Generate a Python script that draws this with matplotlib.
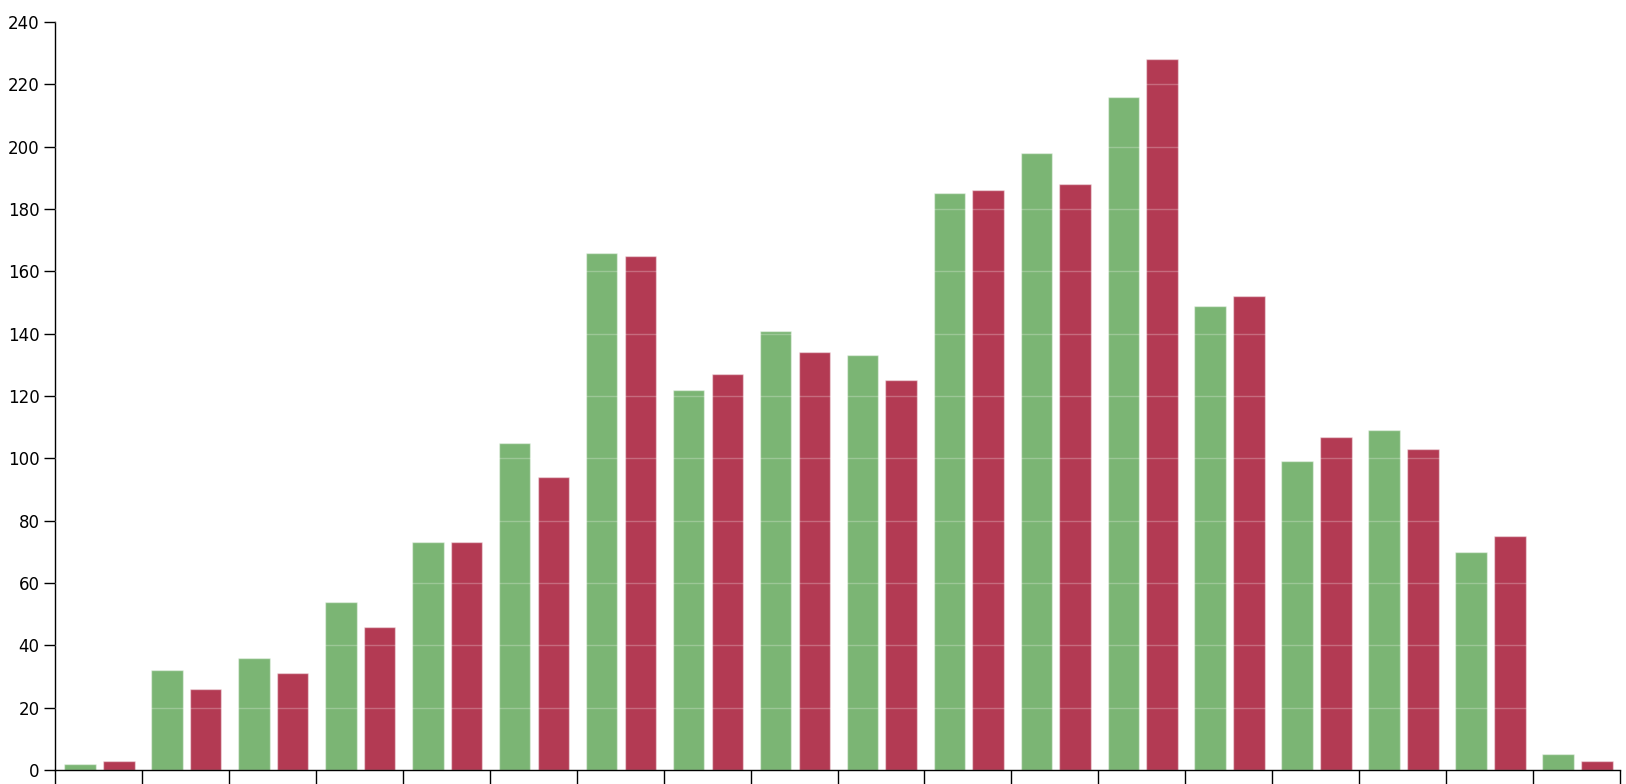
import numpy as np
import matplotlib
matplotlib.use("Agg")
import matplotlib.pyplot as plt

plt.rcParams["font.family"] = ["DejaVu Sans"]

green_vals = [2, 32, 36, 54, 73, 105, 166, 122, 141, 133, 185, 198, 216, 149, 99, 109, 70, 5]
red_vals = [3, 26, 31, 46, 73, 94, 165, 127, 134, 125, 186, 188, 228, 152, 107, 103, 75, 3]
y_ticks = list(range(0, 241, 20))

groups = np.arange(len(green_vals))
bar_w = 0.363

fig = plt.figure(figsize=(16.26, 7.84), dpi=100)
ax = fig.add_axes([55 / 1626, 14 / 784, 1565 / 1626, 748 / 784])

ax.bar(groups + 0.287, green_vals, width=bar_w, color="#7bb574",
       edgecolor=(1, 1, 1, 0.45), linewidth=1, zorder=2)
ax.bar(groups + 0.733, red_vals, width=bar_w, color="#b33a53",
       edgecolor=(1, 1, 1, 0.45), linewidth=1, zorder=2)

# faint white grid only shows over the bars
for t in y_ticks[1:]:
    ax.axhline(t, color="white", alpha=0.25, linewidth=1, zorder=3)

ax.set_xlim(0, len(green_vals))
ax.set_ylim(0, 240)
ax.set_xticks(np.arange(len(green_vals) + 1))
ax.set_xticklabels([])
ax.set_yticks(y_ticks)
ax.tick_params(axis="y", length=8, width=1, labelsize=12, pad=3)
ax.tick_params(axis="x", length=14, width=1)

for side in ["top", "right"]:
    ax.spines[side].set_visible(False)
for side in ["left", "bottom"]:
    ax.spines[side].set_linewidth(1)
    ax.spines[side].set_color("black")

fig.savefig("out.png", dpi=100)
